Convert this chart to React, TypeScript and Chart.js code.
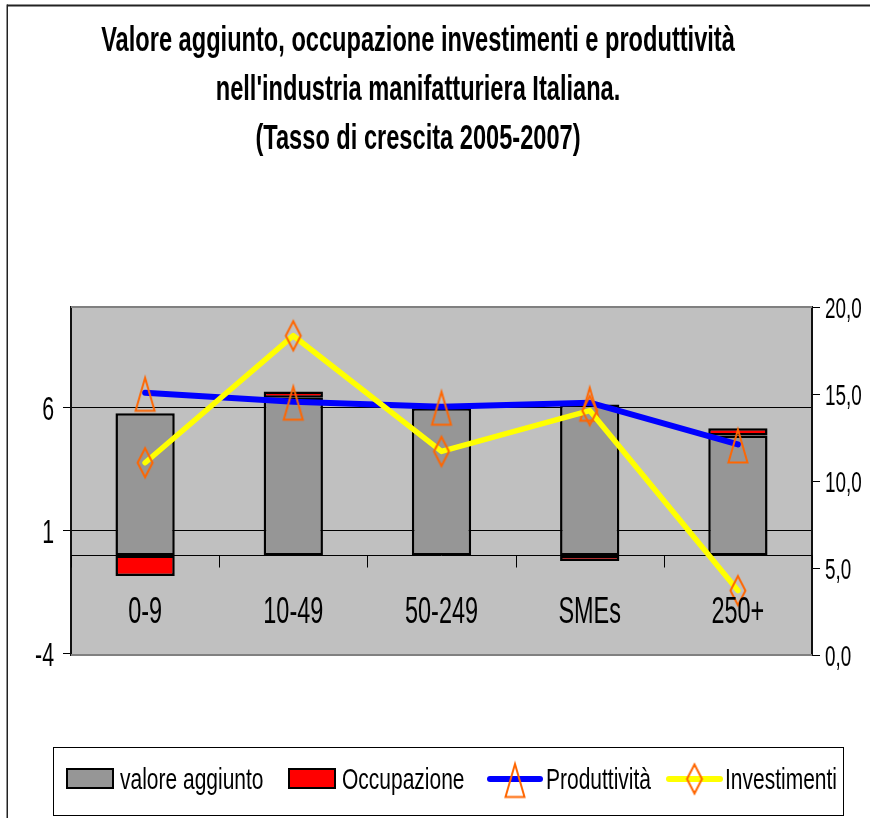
import React, { useEffect, useRef } from 'react';
import { Chart, registerables } from 'chart.js';

Chart.register(...registerables);

const categories = ['0-9', '10-49', '50-249', 'SMEs', '250+'];
const valoreAggiunto = [5.78, 6.41, 5.98, 6.14, 4.87];
const occupazione = [-0.84, 0.25, 0, -0.23, 0.3];
const produttivita = [15.07, 14.56, 14.27, 14.5, 12.1];
const investimenti = [11.05, 18.35, 11.7, 14.05, 3.7];
const leftTicks = [-4, 1, 6];
const rightTicks = [0, 5, 10, 15, 20];
const titleLines = [
  'Valore aggiunto, occupazione investimenti e produttività',
  "nell'industria manifatturiera Italiana.",
  '(Tasso di crescita 2005-2007)',
];
const seriesLabels = ['valore aggiunto', 'Occupazione', 'Produttività', 'Investimenti'];

const FONT = '"Liberation Sans", Arial, sans-serif';
const SX = 0.82;
const MARKER = '#FF6600';

function drawText(ctx: CanvasRenderingContext2D, text: string, x: number, baseline: number, size: number, weight: string, align: CanvasTextAlign, sy: number) {
  ctx.save();
  ctx.font = `${weight} ${size}px ${FONT}`;
  ctx.textAlign = align;
  ctx.textBaseline = 'alphabetic';
  ctx.fillStyle = '#000';
  ctx.translate(x, baseline);
  ctx.scale(SX, sy);
  ctx.fillText(text, 0, 0);
  ctx.restore();
}

function makeTriangle() {
  const c = document.createElement('canvas');
  c.width = 24; c.height = 41;
  const g = c.getContext('2d')!;
  g.strokeStyle = MARKER; g.lineWidth = 2; g.lineJoin = 'miter'; g.miterLimit = 10;
  g.beginPath(); g.moveTo(12, 5.5); g.lineTo(21.5, 38.5); g.lineTo(2.5, 38.5); g.closePath(); g.stroke();
  return c;
}

function makeDiamond() {
  const c = document.createElement('canvas');
  c.width = 20; c.height = 36;
  const g = c.getContext('2d')!;
  g.strokeStyle = MARKER; g.lineWidth = 2; g.lineJoin = 'miter'; g.miterLimit = 10;
  g.beginPath(); g.moveTo(10, 3.5); g.lineTo(17.5, 18); g.lineTo(10, 32.5); g.lineTo(2.5, 18); g.closePath(); g.stroke();
  return c;
}

export default function App() {
  const ref = useRef<HTMLCanvasElement>(null);
  useEffect(() => {
    const tri = makeTriangle();
    const dia = makeDiamond();

    const decor = {
      id: 'decor',
      beforeDraw(chart: any) {
        const { ctx, chartArea: a } = chart;
        ctx.save();
        ctx.fillStyle = '#fff';
        ctx.fillRect(0, 0, chart.width, chart.height);
        ctx.fillStyle = '#222';
        ctx.fillRect(7, 4.5, chart.width, 2);
        ctx.fillRect(6.5, 4.5, 1.5, chart.height);
        ctx.fillStyle = '#C0C0C0';
        ctx.fillRect(a.left, a.top, a.right - a.left, a.bottom - a.top);
        ctx.restore();
      },
      beforeDatasetsDraw(chart: any) {
        const { ctx, chartArea: a } = chart;
        const x = chart.scales.x;
        const y = chart.scales.y;
        ctx.save();
        ctx.fillStyle = '#808080';
        ctx.fillRect(a.left, a.top - 1, a.right - a.left, 2);
        ctx.fillRect(a.left, a.bottom - 1, a.right - a.left, 2);
        const y0 = Math.round(y.getPixelForValue(0)) + 0.5;
        ctx.strokeStyle = '#000';
        ctx.lineWidth = 1;
        ctx.beginPath();
        ctx.moveTo(a.left, y0); ctx.lineTo(a.right, y0);
        const half = (x.getPixelForValue(1) - x.getPixelForValue(0)) / 2;
        for (let i = 0; i <= categories.length; i++) {
          const bx = Math.round(i < categories.length ? x.getPixelForValue(i) - half : x.getPixelForValue(i - 1) + half) + 0.5;
          ctx.moveTo(bx, y0); ctx.lineTo(bx, y0 + 12);
        }
        ctx.stroke();
        ctx.restore();
      },
      afterDraw(chart: any) {
        const { ctx } = chart;
        const x = chart.scales.x;
        const y = chart.scales.y;
        const y1 = chart.scales.y1;
        titleLines.forEach((t, i) => drawText(ctx, t, 418, 51 + i * 49, 28.8, 'bold', 'center', 1.2));
        leftTicks.forEach((v) => drawText(ctx, String(v), 54, y.getPixelForValue(v) + 12, 26, 'normal', 'right', 1.3));
        rightTicks.forEach((v) => drawText(ctx, v.toFixed(1).replace('.', ','), 825, y1.getPixelForValue(v) + 10.5, 23, 'normal', 'left', 1.3));
        const y0 = y.getPixelForValue(0);
        categories.forEach((c, i) => drawText(ctx, c, x.getPixelForValue(i), y0 + 68, 28.6, 'normal', 'center', 1.3));

        // legend
        const ds = chart.data.datasets;
        ctx.save();
        ctx.fillStyle = '#fff';
        ctx.fillRect(53, 747, 791, 69);
        ctx.strokeStyle = '#000';
        ctx.lineWidth = 1;
        ctx.strokeRect(53.5, 747.5, 790, 68);
        const boxes = [66, 288];
        [0, 1].forEach((k) => {
          ctx.fillStyle = '#000';
          ctx.fillRect(boxes[k], 768, 48, 21);
          ctx.fillStyle = ds[k].backgroundColor;
          ctx.fillRect(boxes[k] + 2, 770, 44, 17);
        });
        const lines = [[490, 540, tri], [669, 720, dia]] as const;
        [2, 3].forEach((k, j) => {
          const [l, r, img] = lines[j];
          ctx.strokeStyle = ds[k].borderColor;
          ctx.lineWidth = 6;
          ctx.lineCap = 'round';
          ctx.beginPath(); ctx.moveTo(l, 779); ctx.lineTo(r, 779); ctx.stroke();
          const cx = (l + r) / 2;
          const im = img as HTMLCanvasElement;
          ctx.drawImage(im, cx - im.width / 2, 779 - im.height / 2);
        });
        ctx.restore();
        const textX = [120, 342, 546, 725];
        seriesLabels.forEach((s, i) => drawText(ctx, s, textX[i], 789, 25.6, 'normal', 'left', 1.15));
      },
    };

    const chart = new Chart(ref.current!, {
      type: 'bar',
      data: {
        labels: categories,
        datasets: [
          {
            type: 'bar', label: seriesLabels[0], data: valoreAggiunto, yAxisID: 'y', stack: 's',
            backgroundColor: '#969696', borderColor: '#000', borderWidth: 2.5, borderSkipped: false,
            barPercentage: 0.4, categoryPercentage: 1, order: 2,
          },
          {
            type: 'bar', label: seriesLabels[1], data: occupazione, yAxisID: 'y', stack: 's',
            backgroundColor: '#FF0000', borderColor: '#000', borderWidth: 2.5, borderSkipped: false,
            barPercentage: 0.4, categoryPercentage: 1, order: 2,
          },
          {
            type: 'line', label: seriesLabels[2], data: produttivita, yAxisID: 'y1',
            borderColor: '#0000FF', borderWidth: 6, borderCapStyle: 'round', borderJoinStyle: 'round',
            pointStyle: tri, pointRadius: 10, tension: 0, fill: false, order: 1,
          },
          {
            type: 'line', label: seriesLabels[3], data: investimenti, yAxisID: 'y1',
            borderColor: '#FFFF00', borderWidth: 5.5, borderCapStyle: 'round', borderJoinStyle: 'round',
            pointStyle: dia, pointRadius: 10, tension: 0, fill: false, order: 0,
          },
        ] as any,
      },
      options: {
        responsive: false,
        maintainAspectRatio: false,
        devicePixelRatio: 1,
        animation: false,
        events: [],
        layout: { padding: { left: 0, right: 0, top: 307, bottom: 163 } },
        plugins: { legend: { display: false }, title: { display: false }, tooltip: { enabled: false } },
        scales: {
          x: { display: false, stacked: true, offset: true },
          y: {
            position: 'left', stacked: true, min: -4.05, max: 10.1,
            afterBuildTicks: (s: any) => { s.ticks = leftTicks.map((v) => ({ value: v })); },
            afterFit: (s: any) => { s.width = 71; },
            ticks: { display: false },
            grid: {
              color: (c: any) => (c.tick && c.tick.value === -4 ? 'rgba(0,0,0,0)' : '#000'),
              tickColor: '#000', lineWidth: 1, tickLength: 8, drawTicks: true,
            },
            border: { display: true, color: '#111', width: 2 },
          },
          y1: {
            position: 'right', min: 0, max: 20,
            afterBuildTicks: (s: any) => { s.ticks = rightTicks.map((v) => ({ value: v })); },
            afterFit: (s: any) => { s.width = 58; },
            ticks: { display: false },
            grid: { drawOnChartArea: false, tickColor: '#000', tickLength: 8, drawTicks: true, color: '#000' },
            border: { display: true, color: '#111', width: 2 },
          },
        },
      } as any,
      plugins: [decor],
    });
    return () => chart.destroy();
  }, []);

  return (
    <div style={{ position: 'absolute', left: 0, top: 0, width: 870, height: 818 }}>
      <canvas ref={ref} width={870} height={818} style={{ display: 'block', width: 870, height: 818 }} />
    </div>
  );
}
